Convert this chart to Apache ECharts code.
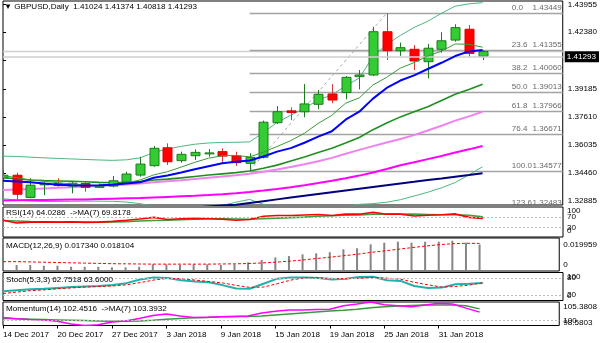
<!DOCTYPE html>
<html>
<head>
<meta charset="utf-8">
<script src="https://cdn.jsdelivr.net/npm/echarts@6/dist/echarts.min.js"></script>
<style>
html,body{margin:0;padding:0;background:#fff;}
#chart{width:600px;height:343px;}
</style>
</head>
<body>
<div id="chart"></div>
<script>
// ---- GBPUSD daily bars ----
const dates = ['14 Dec 2017','15 Dec 2017','18 Dec 2017','19 Dec 2017','20 Dec 2017','21 Dec 2017','22 Dec 2017','26 Dec 2017','27 Dec 2017','28 Dec 2017','29 Dec 2017','2 Jan 2018','3 Jan 2018','4 Jan 2018','5 Jan 2018','8 Jan 2018','9 Jan 2018','10 Jan 2018','11 Jan 2018','12 Jan 2018','15 Jan 2018','16 Jan 2018','17 Jan 2018','18 Jan 2018','19 Jan 2018','22 Jan 2018','23 Jan 2018','24 Jan 2018','25 Jan 2018','26 Jan 2018','29 Jan 2018','30 Jan 2018','31 Jan 2018','1 Feb 2018','2 Feb 2018','5 Feb 2018'];
const opens  = [1.3417,1.3432,1.3307,1.3378,1.3385,1.3371,1.3385,1.3364,1.3371,1.3394,1.3433,1.3486,1.3587,1.3514,1.3542,1.3553,1.3565,1.3541,1.3499,1.3533,1.3728,1.3795,1.3790,1.3832,1.3890,1.3898,1.3988,1.3997,1.4241,1.4134,1.4142,1.4072,1.4142,1.4194,1.4255,1.41024];
const highs  = [1.3462,1.3446,1.3415,1.3395,1.3415,1.3396,1.3396,1.3385,1.3428,1.3452,1.3536,1.3597,1.3612,1.3565,1.3578,1.3580,1.3584,1.3565,1.3556,1.3740,1.3822,1.3815,1.3946,1.3913,1.3946,1.3991,1.4025,1.4269,1.43449,1.4180,1.4166,1.4172,1.4238,1.4283,1.4279,1.41374];
const lows   = [1.3405,1.3296,1.3302,1.3320,1.3368,1.3330,1.3339,1.3360,1.3364,1.3390,1.3424,1.3480,1.3490,1.3503,1.3518,1.3537,1.3503,1.3484,1.34577,1.3527,1.3721,1.3743,1.3759,1.3804,1.3838,1.3860,1.3916,1.3991,1.4082,1.4105,1.4025,1.3978,1.4123,1.4185,1.4100,1.40818];
const closes = [1.3432,1.3325,1.3376,1.3385,1.3375,1.3387,1.3364,1.3371,1.3401,1.3439,1.3495,1.3584,1.3508,1.3550,1.3561,1.3558,1.3540,1.3503,1.3533,1.3731,1.3790,1.3786,1.3834,1.3888,1.3856,1.3984,1.3997,1.4241,1.4134,1.4151,1.4076,1.4148,1.4190,1.4264,1.4119,1.41293];

// ---- moving averages and bands ----
const maFast    = [1.3430,1.3418,1.3405,1.3398,1.3390,1.3383,1.3378,1.3369,1.3380,1.3389,1.3405,1.3434,1.3452,1.3478,1.3505,1.3528,1.3542,1.3543,1.3536,1.3562,1.3594,1.3627,1.3669,1.3724,1.3770,1.3838,1.3868,1.3941,1.3984,1.4036,1.4067,1.4104,1.4132,1.4172,1.4170,1.4154];
const maBlue    = [1.3401,1.3397,1.3392,1.3385,1.3379,1.3375,1.3374,1.3375,1.3378,1.3386,1.3392,1.3418,1.3431,1.3447,1.3466,1.3483,1.3500,1.3508,1.3515,1.3538,1.3565,1.3585,1.3615,1.3650,1.3680,1.3745,1.3790,1.3864,1.3924,1.3966,1.3995,1.4031,1.4066,1.4104,1.4130,1.4138];
const bbMid     = [1.3418,1.3412,1.3405,1.3402,1.3400,1.3398,1.3395,1.3392,1.3390,1.3392,1.3396,1.3405,1.3410,1.3417,1.3425,1.3433,1.3440,1.3447,1.3456,1.3471,1.3489,1.3512,1.3535,1.3560,1.3584,1.3614,1.3645,1.3689,1.3726,1.3761,1.3790,1.3818,1.3853,1.3888,1.3916,1.3945];
const bbUpper   = [1.3540,1.3538,1.3534,1.3530,1.3527,1.3524,1.3521,1.3518,1.3516,1.3519,1.3530,1.3560,1.3580,1.3595,1.3607,1.3614,1.3617,1.3618,1.3620,1.3672,1.3730,1.3770,1.3810,1.3855,1.3885,1.3935,1.3980,1.4100,1.4170,1.4220,1.4265,1.4300,1.4345,1.4385,1.4398,1.4405];
const bbLower   = [1.3300,1.3292,1.3286,1.3284,1.3284,1.3285,1.3286,1.3286,1.3285,1.3281,1.3272,1.3255,1.3245,1.3243,1.3246,1.3253,1.3262,1.3280,1.3296,1.3268,1.3245,1.3240,1.3238,1.3240,1.3248,1.3255,1.3268,1.3272,1.3280,1.3294,1.3315,1.3336,1.3361,1.3391,1.3434,1.3480];
const maViolet  = [1.3349,1.3352,1.3355,1.3358,1.3361,1.3364,1.3368,1.3372,1.3376,1.3380,1.3385,1.3392,1.3398,1.3404,1.3411,1.3418,1.3425,1.3432,1.3440,1.3452,1.3465,1.3479,1.3494,1.3511,1.3530,1.3553,1.3575,1.3596,1.3617,1.3636,1.3658,1.3684,1.3711,1.3740,1.3764,1.3790];
const maMagenta = [1.3290,1.3291,1.3292,1.3293,1.3294,1.3295,1.3296,1.3298,1.3300,1.3302,1.3304,1.3307,1.3310,1.3313,1.3316,1.3320,1.3325,1.3331,1.3338,1.3346,1.3355,1.3365,1.3376,1.3388,1.3401,1.3415,1.3430,1.3447,1.3467,1.3488,1.3505,1.3523,1.3541,1.3560,1.3578,1.3597];
const maNavy    = [1.3140,1.3148,1.3156,1.3164,1.3172,1.3180,1.3188,1.3196,1.3204,1.3212,1.3220,1.3228,1.3236,1.3243,1.3250,1.3256,1.3261,1.3266,1.3276,1.3286,1.3296,1.3306,1.3316,1.3326,1.3336,1.3346,1.3356,1.3366,1.3376,1.3386,1.3395,1.3405,1.3414,1.3424,1.3433,1.3443];

// ---- Fibonacci retracement (swing low bar 18 -> swing high bar 28) ----
const fibLowIndex = 18;
const fibHighIndex = 28;
const fibLevels = [0, 23.6, 38.2, 50, 61.8, 76.4, 100, 123.6];
const fibPrices = [1.43449, 1.41355, 1.40060, 1.39013, 1.37966, 1.36671, 1.34577, 1.32483];
const bidPrice = 1.41293;
const priceTicks = [1.43955, 1.42380, 1.40805, 1.39185, 1.37610, 1.36035, 1.34460, 1.32885];

// ---- oscillators ----
const rsi    = [57,47,50,51,50,51,49,50,53,57,62,68,60,63,64,63,61,57,60,72,75,75,77,79,75,80,80,87,80,80,73,76,78,81,68,64.0286];
const rsiMa  = [56,54,52,51,50,50,50,50,51,52,54,56,57,59,61,63,63,62,61,63,65,67,69,72,74,76,77,80,80,80,80,79,78,78,76,69.8178];
const rsiLevels = [70, 30];
const macd       = [0.0039,0.0034,0.0034,0.0029,0.0029,0.0022,0.0022,0.0022,0.0018,0.0018,0.0022,0.0039,0.0039,0.0034,0.0039,0.0039,0.0034,0.0039,0.0052,0.0068,0.0086,0.0095,0.0107,0.0114,0.0121,0.0141,0.0148,0.0175,0.0186,0.0193,0.0186,0.0193,0.0193,0.019959,0.0186,0.017340];
const macdSignal = [0.0057,0.0057,0.0055,0.0053,0.0051,0.0049,0.0047,0.0045,0.0043,0.0042,0.0041,0.0040,0.0040,0.0040,0.0040,0.0040,0.0041,0.0042,0.0044,0.0048,0.0053,0.0060,0.0068,0.0078,0.0087,0.0097,0.0107,0.0120,0.0130,0.0141,0.0152,0.0163,0.0172,0.0179,0.0182,0.018104];
const stochMain   = [33,37,40,42,45,48,50,52,55,62,75,82,80,72,68,65,55,43,42,60,78,82,82,80,75,78,84,85,72,70,52,45,46,58,60,62.7518];
const stochSignal = [25,30,35,38,42,45,48,50,52,56,64,73,79,78,73,68,63,54,47,48,60,73,81,81,79,78,79,82,80,76,65,56,48,50,55,63.6];
const stochLevels = [80, 20];
const momentum   = [100.9,100.5,100.3,100.2,99.8,99.0,98.5803,98.8,99.6,99.9,100.6,101.5,101.9,101.3,100.9,101.0,101.1,101.2,101.3,102.2,102.7,103.1,103.1,103.2,103.3,104.3,104.8,105.3808,104.6,104.3,104.0,104.5,105.0,104.8,103.6,102.4516];
const momentumMa = [100.6,100.5,100.4,100.3,100.2,100.1,100.0,99.9,99.8,99.8,99.9,100.1,100.4,100.6,100.8,100.9,101.1,101.2,101.2,101.3,101.6,101.9,102.2,102.5,102.8,103.0,103.3,103.7,104.0,104.2,104.4,104.5,104.5,104.5,104.3,103.3932];
const momentumLevel = 100;
const dateTickIndex = [0,4,8,12,16,20,24,28,32];

// ---- layout ----
const FONT = 'Liberation Sans';
const FS = 8.1;
const X_MAX = 40.85;            // bar slots visible across the plot width
const Y_MIN = 1.32643, Y_MAX = 1.44142;
const last = closes.length - 1;

const pts = arr => arr.map((v, i) => [i, v]);
const txt = {fontFamily: FONT, fontSize: FS, color: '#000', fontWeight: 'normal'};

function lineSeries(name, arr, color, width, grid, extra) {
  return Object.assign({
    name, type: 'line', data: pts(arr), xAxisIndex: grid, yAxisIndex: grid,
    symbol: 'none', silent: true, animation: false, z: 3,
    lineStyle: {color, width}
  }, extra || {});
}
function levelMark(values) {
  return {
    silent: true, symbol: 'none', animation: false,
    label: {show: false},
    lineStyle: {color: '#bdbdbd', type: [2, 2], width: 1},
    data: values.map(v => ({yAxis: v}))
  };
}

function renderCandle(params, api) {
  const i = api.value(0), o = api.value(1), c = api.value(2), l = api.value(3), h = api.value(4);
  const pO = api.coord([i, o]), pC = api.coord([i, c]);
  const yL = api.coord([i, l])[1], yH = api.coord([i, h])[1];
  const x = Math.round(pO[0]) + 0.5;
  const bw = api.size([1, 0])[0] * 0.64;
  const up = c >= o;
  const top = Math.min(pO[1], pC[1]);
  const hgt = Math.max(1, Math.abs(pO[1] - pC[1]));
  const edge = up ? '#1d7a1d' : '#e00000';
  return {
    type: 'group',
    children: [
      {type: 'line', shape: {x1: x, y1: yH, x2: x, y2: yL}, style: {stroke: up ? '#1d7a1d' : '#d83a3a', lineWidth: 1}},
      {type: 'rect', shape: {x: Math.round(x - bw / 2), y: top, width: Math.round(bw), height: hgt},
       style: {fill: up ? '#33cc33' : '#ff0000', stroke: edge, lineWidth: 1}}
    ]
  };
}

function renderFib(params, api) {
  const start = api.value(0), p = api.value(1), lvl = api.value(2);
  const a = api.coord([start, p]), b = api.coord([X_MAX, p]);
  const y = Math.round(a[1]) + 0.5;
  return {
    type: 'group',
    children: [
      {type: 'line', shape: {x1: a[0], y1: y, x2: b[0], y2: y}, style: {stroke: '#a3a3a3', lineWidth: 1.6}},
      {type: 'text', style: {text: lvl.toFixed(1), x: b[0] - 51, y: y - 2, align: 'left', verticalAlign: 'bottom',
        fill: '#6a6a6a', fontFamily: FONT, fontSize: FS}},
      {type: 'text', style: {text: p.toFixed(5), x: b[0] - 1, y: y - 2, align: 'right', verticalAlign: 'bottom',
        fill: '#6a6a6a', fontFamily: FONT, fontSize: FS}}
    ]
  };
}

// label shifts for oscillator scales (edge values are pulled inside the panel)
const shiftRich = {
  dn:  {padding: [9, 0, 0, 0], fontFamily: FONT, fontSize: FS, color: '#000'},
  dn2: {padding: [4, 0, 0, 0], fontFamily: FONT, fontSize: FS, color: '#000'},
  up:  {padding: [0, 0, 10, 0], fontFamily: FONT, fontSize: FS, color: '#000'},
  up2: {padding: [0, 0, 5, 0], fontFamily: FONT, fontSize: FS, color: '#000'},
  mid: {fontFamily: FONT, fontSize: FS, color: '#000'}
};
// each oscillator scale is split over two axes so that neighbouring labels may overlap
function oscAxis(grid, min, max, values, fmt) {
  return {
    gridIndex: grid, type: 'value', position: 'right', offset: 0, min, max,
    axisLine: {show: false}, splitLine: {show: false},
    axisTick: {show: false},
    axisLabel: {customValues: values, formatter: fmt, margin: 4, rich: shiftRich,
      showMinLabel: true, showMaxLabel: true, hideOverlap: false,
      fontFamily: FONT, fontSize: FS, color: '#000'}
  };
}

const grids = [
  {left: 3, right: 37, top: 1, height: 204},
  {left: 3, right: 37, top: 207, height: 30},
  {left: 3, right: 37, top: 238, height: 33},
  {left: 3, right: 37, top: 272.5, height: 28},
  {left: 3, right: 37, top: 302, height: 23.5}
].map(g => Object.assign(g, {show: true, borderColor: '#000', borderWidth: 1, backgroundColor: '#fff'}));

const xAxes = grids.map((g, k) => ({
  gridIndex: k, type: 'value', min: 0, max: X_MAX,
  show: k === 4,
  axisLine: {show: false}, splitLine: {show: false},
  axisTick: {show: true, customValues: dateTickIndex, length: 3, lineStyle: {color: '#000'}},
  axisLabel: {customValues: dateTickIndex, formatter: v => dates[v] || '', align: 'left', margin: 5,
    showMinLabel: true, showMaxLabel: true, hideOverlap: false,
    fontFamily: FONT, fontSize: FS, color: '#000'}
}));

const rsiFmt = v => v === 100 ? '{dn2|100}' : v === 0 ? '{up|0}' : '{mid|' + v + '}';
const stochFmt = v => v === 100 ? '{dn|100}' : v === 0 ? '{up|0}' : '{mid|' + v + '}';
const momFmt = v => v === 100 ? '{mid|100}' : v < 100 ? '{up2|' + v.toFixed(4) + '}' : '{dn|' + v.toFixed(4) + '}';

const yAxes = [
  {
    gridIndex: 0, type: 'value', position: 'right', min: Y_MIN, max: Y_MAX,
    axisLine: {show: false}, splitLine: {show: false},
    axisTick: {show: true, customValues: priceTicks, length: 3, lineStyle: {color: '#000'}},
    axisLabel: {customValues: priceTicks, formatter: v => v.toFixed(5), margin: 5,
      showMinLabel: true, showMaxLabel: true, hideOverlap: false,
      fontFamily: FONT, fontSize: FS, color: '#000'}
  },
  oscAxis(1, -6, 107, [30, 100], rsiFmt),
  oscAxis(2, -0.00068, 0.0218, [0, 0.019959], v => v === 0 ? '{up|0}' : '{dn|' + v.toFixed(6) + '}'),
  oscAxis(3, 0, 100, [20, 100], stochFmt),
  oscAxis(4, 98.5803, 105.3808, [98.5803, 105.3808], momFmt),
  // companion label axes
  oscAxis(1, -6, 107, [0, 70], rsiFmt),
  oscAxis(3, 0, 100, [0, 80], stochFmt),
  oscAxis(4, 98.5803, 105.3808, [momentumLevel], momFmt)
];

const ohlcText = [opens[last], highs[last], lows[last], closes[last]].map(v => v.toFixed(5)).join(' ');
const titles = [
  {text: '\u25BC GBPUSD,Daily  ' + ohlcText, top: 2.5},
  {text: 'RSI(14) ' + rsi[last].toFixed(4) + '  ->MA(7) ' + rsiMa[last].toFixed(4), top: 208.5},
  {text: 'MACD(12,26,9) ' + macd[last].toFixed(6) + ' ' + macdSignal[last].toFixed(6), top: 241.5},
  {text: 'Stoch(5,3,3) ' + stochMain[last].toFixed(4) + ' ' + stochSignal[last].toFixed(4), top: 275.5},
  {text: 'Momentum(14) ' + momentum[last].toFixed(4) + '  ->MA(7) ' + momentumMa[last].toFixed(4), top: 305}
].map((t, k) => Object.assign(t, {left: k === 0 ? 4 : 6, padding: 0, textStyle: txt, z: 10}));

const series = [
  // bands and moving averages under the bars
  lineSeries('BB upper', bbUpper, '#4cb87e', 1, 0),
  lineSeries('BB lower', bbLower, '#4cb87e', 1, 0),
  lineSeries('MA navy', maNavy, '#000080', 2, 0),
  lineSeries('MA magenta', maMagenta, '#ff00ff', 2, 0),
  lineSeries('MA violet', maViolet, '#ee82ee', 2, 0),
  lineSeries('MA mid', bbMid, '#1f8f1f', 1.6, 0),
  {
    name: 'bid', type: 'line', xAxisIndex: 0, yAxisIndex: 0, data: [[0, bidPrice], [X_MAX, bidPrice]],
    symbol: 'none', silent: true, animation: false, z: 1,
    lineStyle: {color: '#cfcfcf', width: 1.5},
    markLine: {
      silent: true, symbol: 'none', animation: false,
      lineStyle: {color: '#cfcfcf', width: 1.5, type: 'solid'},
      label: {show: true, position: 'end', distance: 2, formatter: bidPrice.toFixed(5),
        backgroundColor: '#000', color: '#fff', padding: [2, 3, 1, 2], fontFamily: FONT, fontSize: FS},
      data: [{yAxis: bidPrice}]
    }
  },
  {
    name: 'fib', type: 'custom', xAxisIndex: 0, yAxisIndex: 0, clip: true, silent: true, animation: false, z: 2,
    renderItem: renderFib,
    encode: {x: 0, y: 1},
    data: fibPrices.map((p, k) => [fibLowIndex, p, fibLevels[k]])
  },
  {
    name: 'fib trend', type: 'line', xAxisIndex: 0, yAxisIndex: 0, silent: true, animation: false, z: 2,
    symbol: 'none', lineStyle: {color: '#a8a8b4', width: 1, type: [3, 3]},
    data: [[fibLowIndex, lows[fibLowIndex]], [fibHighIndex, highs[fibHighIndex]]]
  },
  {
    name: 'GBPUSD', type: 'custom', xAxisIndex: 0, yAxisIndex: 0, clip: true, silent: true, animation: false, z: 4,
    renderItem: renderCandle,
    encode: {x: 0, y: [1, 2, 3, 4]},
    data: dates.map((d, i) => [i, opens[i], closes[i], lows[i], highs[i]])
  },
  lineSeries('MA fast', maFast, '#3a9a3a', 1, 0, {z: 5}),
  lineSeries('MA blue', maBlue, '#0000ff', 2, 0, {z: 5}),

  // RSI
  lineSeries('RSI MA', rsiMa, '#3fa03f', 1.6, 1, {markLine: levelMark(rsiLevels)}),
  lineSeries('RSI', rsi, '#ff0000', 1.6, 1),

  // MACD
  {
    name: 'MACD', type: 'bar', xAxisIndex: 2, yAxisIndex: 2, data: pts(macd), barWidth: 2,
    silent: true, animation: false, itemStyle: {color: '#858585'}
  },
  lineSeries('MACD signal', macdSignal, '#ff0000', 1, 2, {lineStyle: {color: '#ff0000', width: 1, type: [3, 2]}}),

  // Stochastic
  lineSeries('Stoch', stochMain, '#20b2aa', 2, 3, {markLine: levelMark(stochLevels)}),
  lineSeries('Stoch signal', stochSignal, '#ff0000', 1, 3, {lineStyle: {color: '#ff0000', width: 1, type: [3, 2]}}),

  // Momentum
  lineSeries('Momentum MA', momentumMa, '#3a9a3a', 1.5, 4, {markLine: levelMark([momentumLevel])}),
  lineSeries('Momentum', momentum, '#ff00ff', 1.5, 4)
];

const chart = echarts.init(document.getElementById('chart'), null, {renderer: 'canvas'});
chart.setOption({
  animation: false,
  backgroundColor: '#fff',
  title: titles,
  grid: grids,
  xAxis: xAxes,
  yAxis: yAxes,
  series
});
</script>
</body>
</html>
